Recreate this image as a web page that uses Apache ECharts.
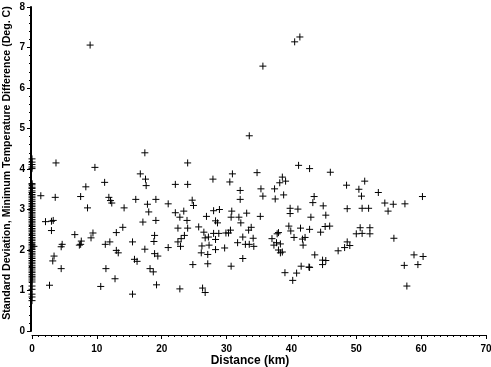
<!DOCTYPE html>
<html><head><meta charset="utf-8">
<script src="https://cdn.jsdelivr.net/npm/echarts@6/dist/echarts.min.js"></script>
<style>html,body{margin:0;padding:0;background:#fff}#c{width:491px;height:367px}</style>
</head><body><div id="c"></div>
<script>
// Distance (km) values for stations away from 0
const distKm = [8.96,40.5,41.3,35.6,33.5,17.4,24.0,3.7,9.7,16.7,17.5,27.9,30.9,34.7,38.6,41.1,42.8,46.0,17.6,11.2,
8.3,1.36,3.58,7.5,11.85,12.1,12.3,16.0,17.8,8.56,14.2,18.0,2.08,3.0,3.27,17.1,3.0,6.6,9.4,9.1,
7.6,7.3,7.5,4.65,4.5,14.0,13.0,11.3,12.0,15.5,13.0,13.3,17.4,15.8,16.2,18.2,3.4,3.2,4.5,11.4,
12.8,2.7,10.6,15.5,22.1,24.0,30.5,32.1,35.3,35.6,32.1,37.4,37.5,19.1,24.7,24.9,21.0,22.1,23.4,22.8,
23.9,19.1,26.9,28.0,28.9,28.3,28.6,30.8,30.7,31.9,32.2,33.1,35.2,18.9,18.8,22.5,24.0,25.7,33.8,33.4,
26.5,28.0,28.8,29.9,30.3,30.6,23.5,23.0,22.5,26.7,27.2,28.3,32.5,34.1,31.7,32.9,33.5,34.2,37.0,37.3,
21.0,22.9,26.2,27.3,28.3,29.7,26.1,27.1,18.9,19.4,27.1,24.8,30.7,32.5,18.7,19.2,22.8,26.3,26.7,38.2,
39.1,38.8,48.5,51.3,50.4,50.8,53.4,43.5,43.3,44.9,39.8,41.0,39.8,43.0,45.3,48.6,50.9,51.9,54.4,55.7,
54.9,57.5,60.2,42.8,44.5,45.2,45.9,50.6,52.1,50.0,50.9,52.1,48.6,48.2,49.0,47.2,55.8,43.6,44.8,45.3,
44.8,42.8,58.9,60.3,57.4,59.5,57.8,39.6,39.9,41.4,38.0,37.8,37.7,38.3,38.0,38.3,38.6,40.4,41.7,42.1,
41.8,41.5,42.7,39.0,40.8,40.2,0.3];
// Standard deviation values matching distKm
const stdDev = [7.06,7.14,7.26,6.54,4.82,4.40,4.15,4.15,4.04,3.88,3.75,3.75,3.88,3.91,3.80,4.09,4.01,3.92,3.59,3.67,
3.56,3.34,3.30,3.32,3.30,3.22,3.16,3.25,3.13,3.04,3.04,2.94,2.70,2.71,2.73,2.69,2.48,2.38,2.42,2.30,
2.22,2.12,2.14,2.14,2.08,2.56,2.43,2.14,2.20,2.20,1.99,1.93,2.02,1.77,1.72,1.54,1.85,1.73,1.54,1.54,
1.29,1.13,1.10,0.91,3.62,3.62,3.68,3.47,3.51,3.33,3.25,3.51,3.26,3.25,3.23,3.10,3.14,2.92,2.96,2.81,
2.73,2.73,2.83,2.97,3.00,2.72,2.67,2.96,2.81,2.81,2.67,2.91,2.83,2.36,2.21,2.54,2.54,2.57,2.56,2.49,
2.44,2.41,2.41,2.42,2.42,2.49,2.36,2.28,2.20,2.30,2.32,2.26,2.32,2.29,2.18,2.14,2.14,2.09,2.28,2.12,
2.06,2.09,2.10,2.12,2.01,2.05,1.93,1.89,1.91,1.85,1.66,1.64,1.60,1.79,1.46,1.14,1.04,1.06,0.95,3.66,
3.70,3.36,3.60,3.70,3.50,3.33,3.42,3.32,3.17,3.09,3.03,3.01,2.90,2.81,2.86,3.02,3.03,3.03,3.16,3.13,
2.96,3.14,3.32,2.51,2.44,2.58,2.59,2.55,2.55,2.40,2.41,2.40,2.20,2.06,2.11,1.98,2.29,1.88,1.75,1.74,
1.64,1.57,1.88,1.84,1.62,1.64,1.11,2.59,2.47,2.54,2.43,2.40,2.18,2.15,2.00,1.93,1.95,2.31,2.27,2.31,
2.12,1.60,1.58,1.44,1.43,1.25,2.09];
// Standard deviation values of stations at distance 0
const stdDevAtZero = [4.25,4.17,4.11,4.05,4.01,3.64,3.61,3.55,3.52,3.46,3.42,3.37,3.33,3.29,3.24,3.20,3.15,3.11,3.07,3.02,
2.98,2.93,2.89,2.84,2.80,2.75,2.71,2.67,2.62,2.58,2.53,2.49,2.45,2.40,2.36,2.31,2.27,2.23,2.18,2.14,
2.10,2.05,2.01,1.96,1.92,1.88,1.83,1.79,1.74,1.70,1.66,1.61,1.57,1.53,1.48,1.44,1.39,1.35,1.31,1.26,
1.21,1.11,1.03,0.91,0.84,0.75];
const xTicks = [0,10,20,30,40,50,60,70];
const yTicks = [0,1,2,3,4,5,6,7,8];

const pts = distKm.map((d,i)=>[d, stdDev[i]]).concat(stdDevAtZero.map(v=>[0, v]));

const chart = echarts.init(document.getElementById('c'), null, {renderer:'canvas'});
const lab = {color:'#000', fontFamily:'Liberation Sans, Arial, sans-serif', fontWeight:'bold', fontSize:10};
chart.setOption({
  animation:false,
  backgroundColor:'#fff',
  grid:{left:32, right:5, top:7, bottom:36, containLabel:false, outerBoundsMode:'none'},
  xAxis:{
    type:'value', min:xTicks[0], max:xTicks[xTicks.length-1], interval:10, offset:4,
    name:'Distance (km)', nameLocation:'middle', nameGap:20, nameMoveOverlap:false,
    nameTextStyle:{color:'#000', fontFamily:'Liberation Sans, Arial, sans-serif', fontWeight:'bold', fontSize:12, padding:[0,18,0,0]},
    axisLine:{show:true, onZero:false, lineStyle:{color:'#000', width:1}},
    axisTick:{show:true, inside:false, length:4, lineStyle:{color:'#000'}},
    minorTick:{show:true, splitNumber:10, length:2, lineStyle:{color:'#000'}},
    splitLine:{show:false},
    axisLabel:{...lab, margin:9, formatter:v=>xTicks.includes(v)?String(v):''}
  },
  yAxis:{
    type:'value', min:yTicks[0], max:yTicks[yTicks.length-1], interval:1, offset:1,
    name:'Standard Deviation, Minimum Temperature Difference (Deg. C)', nameLocation:'middle', nameGap:18, nameMoveOverlap:false,
    nameTextStyle:{color:'#000', fontFamily:'Liberation Sans, Arial, sans-serif', fontWeight:'bold', fontSize:10.6, padding:[0,0,0,12]},
    axisLine:{show:true, onZero:false, lineStyle:{color:'#000', width:2}},
    axisTick:{show:true, inside:false, length:4, lineStyle:{color:'#000'}},
    minorTick:{show:true, splitNumber:5, length:2, lineStyle:{color:'#000'}},
    splitLine:{show:false},
    axisLabel:{...lab, margin:6, formatter:v=>yTicks.includes(v)?String(v):''}
  },
  series:[{
    type:'scatter',
    data:pts,
    symbol:'path://M5,0L5,10M0,5L10,5',
    symbolSize:7,
    itemStyle:{color:'rgba(0,0,0,0)', borderColor:'#000', borderWidth:1, opacity:1},
    emphasis:{disabled:true}
  }]
});
</script></body></html>
